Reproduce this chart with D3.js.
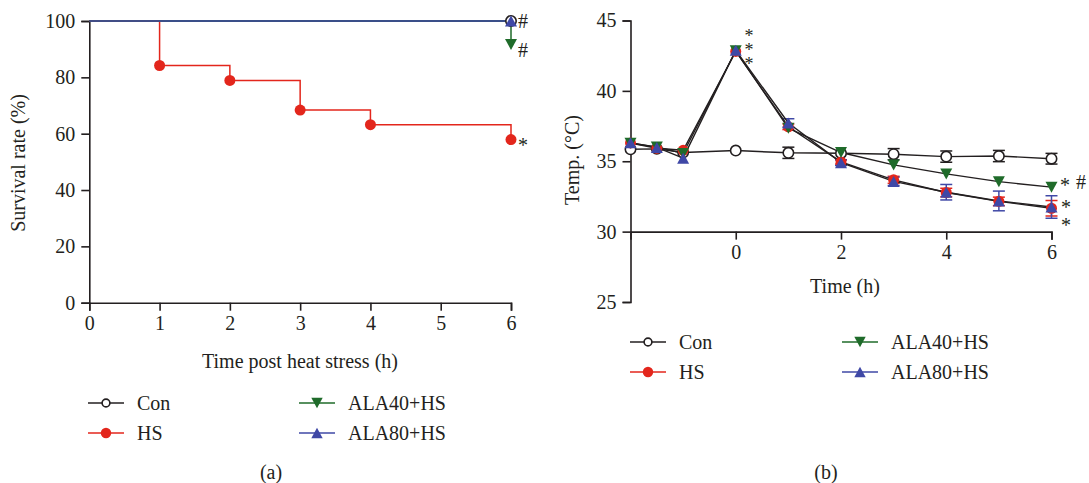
<!DOCTYPE html>
<html>
<head>
<meta charset="utf-8">
<script src="https://cdn.jsdelivr.net/npm/d3@7"></script>
<style>
  html, body { margin: 0; padding: 0; background: #fff; }
  svg text { font-family: "Liberation Serif", "DejaVu Serif", serif; fill: #231f20; }
  .vstack { writing-mode: vertical-rl; text-orientation: upright; }
</style>
</head>
<body>
<svg id="chart" width="1089" height="483"></svg>
<script>
// ---------- DATA ----------
const seriesNames = ["Con", "HS", "ALA40+HS", "ALA80+HS"];
const seriesColors = ["#231f20", "#e3261c", "#1f6b2a", "#3f48a6"];

// Panel (a): survival (time h, %)
const survTimeTicks = [0, 1, 2, 3, 4, 5, 6];
const survYTicks = [0, 20, 40, 60, 80, 100];
const survConT = [0, 6];
const survConV = [100, 100];
const survHST = [0, 1, 2, 3, 4, 6];
const survHSV = [100, 84.2, 78.9, 68.4, 63.2, 57.9];
const survA40T = [0, 6];
const survA40V = [100, 91.7];
const survA80T = [0, 6];
const survA80V = [100, 100];

// Panel (b): temperature
const tempTime = [-2, -1.5, -1, 0, 1, 2, 3, 4, 5, 6];
const tempXTicks = [0, 2, 4, 6];
const tempYTicks = [25, 30, 35, 40, 45];
const tempCon   = [35.85, 35.88, 35.62, 35.76, 35.6, 35.57, 35.5, 35.33, 35.37, 35.18];
const tempHS    = [36.3, 35.92, 35.78, 42.8, 37.45, 34.95, 33.68, 32.78, 32.15, 31.66];
const tempA40   = [36.28, 36.02, 35.55, 42.85, 37.35, 35.62, 34.74, 34.1, 33.55, 33.16];
const tempA80   = [36.32, 35.98, 35.22, 42.88, 37.72, 34.9, 33.57, 32.8, 32.18, 31.75];
const errCon    = [0.1, 0.1, 0.1, 0.1, 0.4, 0.1, 0.4, 0.4, 0.4, 0.38];
const errHS     = [0.1, 0.1, 0.1, 0.1, 0.2, 0.15, 0.25, 0.3, 0.3, 0.55];
const errA40    = [0.1, 0.1, 0.1, 0.1, 0.1, 0.1, 0.1, 0.1, 0.1, 0.1];
const errA80    = [0.1, 0.1, 0.1, 0.1, 0.3, 0.2, 0.3, 0.55, 0.7, 0.8];

// ---------- DRAW ----------
const svg = d3.select("#chart");
svg.append("rect").attr("width", 1089).attr("height", 483).attr("fill", "#fff");
const FS = 20;
const axisColor = "#231f20";

function styleAxis(g) {
  g.selectAll("path.domain").attr("stroke", axisColor).attr("stroke-width", 1.6);
  g.selectAll(".tick line").attr("stroke", axisColor).attr("stroke-width", 1.6);
  g.selectAll(".tick text").attr("font-size", FS).attr("font-family", "Liberation Serif").attr("fill", axisColor);
}

function marker(g, type, x, y, color, size) {
  const s = size || 1;
  if (type === "openCircle") {
    g.append("circle").attr("cx", x).attr("cy", y).attr("r", 5.2 * s)
      .attr("fill", "#fff").attr("stroke", "#231f20").attr("stroke-width", 1.6);
  } else if (type === "circle") {
    g.append("circle").attr("cx", x).attr("cy", y).attr("r", 5.5 * s).attr("fill", color);
  } else if (type === "down") {
    const h = 11 * s, w = 12 * s;
    g.append("path").attr("d", `M${x - w / 2},${y - h / 2}L${x + w / 2},${y - h / 2}L${x},${y + h / 2}Z`).attr("fill", color);
  } else if (type === "up") {
    const h = 11 * s, w = 12 * s;
    g.append("path").attr("d", `M${x - w / 2},${y + h / 2}L${x + w / 2},${y + h / 2}L${x},${y - h / 2}Z`).attr("fill", color);
  }
}
const markerTypes = ["openCircle", "circle", "down", "up"];

// ===== Panel (a) =====
const xa = d3.scaleLinear().domain([0, 6]).range([89.3, 511]);
const ya = d3.scaleLinear().domain([0, 100]).range([302.7, 21]);
const ga = svg.append("g");

const gxa = ga.append("g").attr("transform", `translate(0,${ya(0)})`)
  .call(d3.axisBottom(xa).tickValues(survTimeTicks).tickFormat(d3.format("d")).tickSizeOuter(0).tickSize(8).tickPadding(5));
styleAxis(gxa);
const gya = ga.append("g").attr("transform", `translate(${xa(0)},0)`)
  .call(d3.axisLeft(ya).tickValues(survYTicks).tickSizeOuter(0).tickSize(8).tickPadding(6));
styleAxis(gya);

const stepLine = d3.line().x(d => xa(d[0])).y(d => ya(d[1])).curve(d3.curveStepAfter);
const survData = [
  d3.zip(survConT, survConV),
  d3.zip(survHST, survHSV),
  d3.zip(survA40T, survA40V),
  d3.zip(survA80T, survA80V)
];
survData.forEach((d, i) => {
  ga.append("path").datum(d).attr("d", stepLine).attr("fill", "none")
    .attr("stroke", seriesColors[i]).attr("stroke-width", 1.5);
});
survData.forEach((d, i) => {
  d.slice(1).forEach(p => marker(ga, markerTypes[i], xa(p[0]), ya(p[1]), seriesColors[i]));
});

ga.append("text").attr("x", 518).attr("y", 28).attr("font-size", 20).text("#");
ga.append("text").attr("x", 518).attr("y", 57).attr("font-size", 20).text("#");
ga.append("text").attr("x", 518).attr("y", 152).attr("font-size", 20).attr("fill", "#444").text("*");

ga.append("text").attr("x", 300).attr("y", 368).attr("text-anchor", "middle").attr("font-size", FS)
  .text("Time post heat stress (h)");
ga.append("text").attr("transform", `translate(25,${163}) rotate(-90)`).attr("text-anchor", "middle")
  .attr("font-size", FS).text("Survival rate (%)");

// ===== Panel (b) =====
const xb = d3.scaleLinear().domain([-2, 6]).range([630.5, 1051.5]);
const yb = d3.scaleLinear().domain([25, 45]).range([302, 20.5]);
const gb = svg.append("g");

const gxb = gb.append("g").attr("transform", `translate(0,${yb(30)})`)
  .call(d3.axisBottom(xb).tickValues(tempXTicks).tickFormat(d3.format("d")).tickSizeOuter(0).tickSize(8).tickPadding(5));
styleAxis(gxb);
const gyb = gb.append("g").attr("transform", `translate(${xb(-2)},0)`)
  .call(d3.axisLeft(yb).tickValues(tempYTicks).tickSizeOuter(0).tickSize(8).tickPadding(6));
styleAxis(gyb);

const tempSeries = [tempCon, tempHS, tempA40, tempA80];
const errSeries = [errCon, errHS, errA40, errA80];
const lineB = d3.line().x(d => xb(d[0])).y(d => yb(d[1]));

// error bars
tempSeries.forEach((vals, i) => {
  vals.forEach((v, j) => {
    const e = errSeries[i][j];
    const x = xb(tempTime[j]);
    const y1 = yb(v + e), y2 = yb(v - e);
    if (y2 - y1 < 4) return;
    gb.append("line").attr("x1", x).attr("x2", x).attr("y1", y1).attr("y2", y2)
      .attr("stroke", seriesColors[i]).attr("stroke-width", 1.5);
    [y1, y2].forEach(yy => gb.append("line").attr("x1", x - 6).attr("x2", x + 6).attr("y1", yy).attr("y2", yy)
      .attr("stroke", seriesColors[i]).attr("stroke-width", 1.5));
  });
});
// lines (all black)
tempSeries.forEach((vals, i) => {
  gb.append("path").datum(d3.zip(tempTime, vals)).attr("d", lineB).attr("fill", "none")
    .attr("stroke", "#231f20").attr("stroke-width", 1.4);
});
// markers
tempSeries.forEach((vals, i) => {
  vals.forEach((v, j) => marker(gb, markerTypes[i], xb(tempTime[j]), yb(v), seriesColors[i]));
});

// significance marks: stacked asterisks as single vertical text blocks
gb.append("text").attr("class", "vstack").attr("x", 749).attr("y", 26)
  .attr("font-size", 18).attr("letter-spacing", -6).attr("fill", "#666").text("***");

gb.append("text").attr("x", 1060).attr("y", 192).attr("font-size", 20).attr("fill", "#444").text("*");
gb.append("text").attr("x", 1076).attr("y", 189).attr("font-size", 20).text("#");
gb.append("text").attr("class", "vstack").attr("x", 1066).attr("y", 196)
  .attr("font-size", 20).attr("letter-spacing", -4).attr("fill", "#444").text("**");

gb.append("text").attr("x", 845).attr("y", 293).attr("text-anchor", "middle").attr("font-size", FS).text("Time (h)");
gb.append("text").attr("transform", `translate(579,160) rotate(-90)`).attr("text-anchor", "middle")
  .attr("font-size", FS).text("Temp. (°C)");

// ===== Legends =====
function legend(x0, y0, colGap, rowGap, label, labelX) {
  const g = svg.append("g");
  seriesNames.forEach((name, i) => {
    const col = i < 2 ? 0 : 1;
    const row = i % 2;
    const lx = x0 + col * colGap;
    const ly = y0 + row * rowGap;
    g.append("line").attr("x1", lx).attr("x2", lx + 36).attr("y1", ly).attr("y2", ly)
      .attr("stroke", seriesColors[i]).attr("stroke-width", 1.5);
    marker(g, markerTypes[i], lx + 18, ly, seriesColors[i], i === 0 ? 0.75 : 0.95);
    g.append("text").attr("x", lx + 49).attr("y", ly + 7).attr("font-size", FS).text(name);
  });
  g.append("text").attr("x", labelX).attr("y", 479).attr("text-anchor", "middle").attr("font-size", FS).text(label);
}
legend(88, 403, 211, 30, "(a)", 271);
legend(630, 342, 212, 30, "(b)", 826);
</script>
</body>
</html>
